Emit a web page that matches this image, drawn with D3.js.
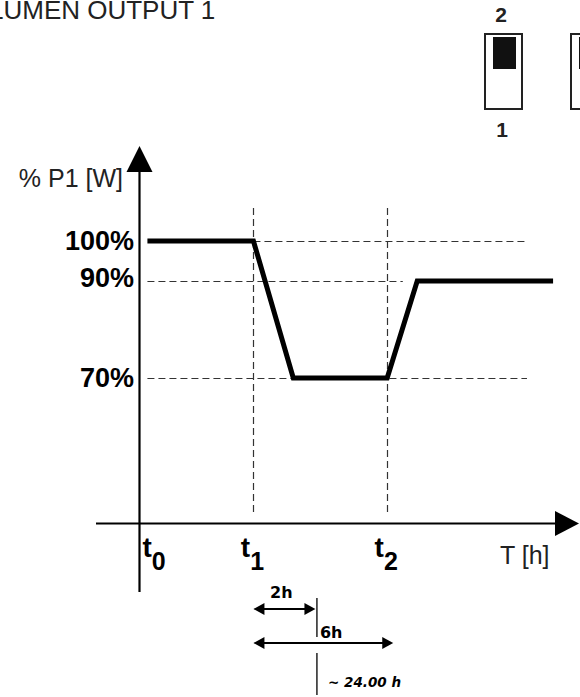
<!DOCTYPE html>
<html>
<head>
<meta charset="utf-8">
<script src="https://cdn.jsdelivr.net/npm/d3@7"></script>
<style>
  html, body { margin: 0; padding: 0; background: #fff; }
  svg { display: block; }
  text { font-family: "Liberation Sans", Arial, sans-serif; }
</style>
</head>
<body>
<svg id="chart" width="580" height="697"></svg>
<script>
// ---------- data ----------
const title = "LUMEN OUTPUT 1";
const yAxisLabel = "% P1 [W]";
const xAxisLabel = "T [h]";
// power curve (time in schematic hours, power in %)
const curveTime  = [0.34, 4.89, 6.6, 10.63, 11.92, 17.75];
const curvePower = [100, 100, 70, 70, 90, 90];
// y tick values / labels
const yTickValues = [100, 90, 70];
const yTickLabels = ["100%", "90%", "70%"];
// time markers
const tMarkerNames = ["t", "t", "t"];
const tMarkerSubs  = ["0", "1", "2"];
const tMarkerTimes = [0, 4.89, 10.63];
// dashed guide lines: horizontal [power, from, to]
const hGuidePower = [100, 90, 70];
const hGuideFrom  = [4.89, 0.34, 0.34];
const hGuideTo    = [16.55, 11.3, 16.63];
// duration annotations (label, drawn span from t1)
const spanLabels = ["2h", "6h"];
const spanHours  = [2.66, 6.0];
const totalLabel = "~ 24.00 h";
// DIP switch labels
const switchTop = "2";
const switchBottom = "1";

// ---------- scales ----------
const svg = d3.select("#chart");
const x = d3.scaleLinear().domain([0, 18]).range([139.5, 139.5 + 18 * 23.3]);
const y = d3.scaleLinear().domain([70, 90, 100]).range([378, 281, 241]);
const axisY = 523.5;
const axisX = x(0);

// ---------- title ----------
svg.append("text").attr("x", -11).attr("y", 19)
  .attr("font-size", 26).attr("fill", "#222").text(title);

// ---------- DIP switch ----------
const sw = svg.append("g");
sw.append("text").attr("x", 501).attr("y", 22).attr("text-anchor", "middle")
  .attr("font-size", 21).attr("font-weight", "bold").attr("fill", "#222").text(switchTop);
sw.append("text").attr("x", 502).attr("y", 137).attr("text-anchor", "middle")
  .attr("font-size", 21).attr("font-weight", "bold").attr("fill", "#222").text(switchBottom);
sw.append("rect").attr("x", 485).attr("y", 34).attr("width", 37).attr("height", 75)
  .attr("fill", "#fff").attr("stroke", "#222").attr("stroke-width", 2);
sw.append("rect").attr("x", 493).attr("y", 37).attr("width", 23).attr("height", 32)
  .attr("fill", "#111");
sw.append("rect").attr("x", 571).attr("y", 34).attr("width", 37).attr("height", 75)
  .attr("fill", "#fff").attr("stroke", "#222").attr("stroke-width", 2);
sw.append("rect").attr("x", 579).attr("y", 37).attr("width", 23).attr("height", 32)
  .attr("fill", "#111");

// ---------- dashed guides ----------
const guides = svg.append("g").attr("stroke", "#333").attr("stroke-width", 1.2)
  .attr("stroke-dasharray", "7,4").attr("fill", "none");
hGuidePower.forEach((p, i) => {
  guides.append("line")
    .attr("x1", x(hGuideFrom[i])).attr("x2", x(hGuideTo[i]))
    .attr("y1", Math.round(y(p)) + 0.5).attr("y2", Math.round(y(p)) + 0.5);
});
[1, 2].forEach(i => {
  const xx = Math.round(x(tMarkerTimes[i])) + 0.5;
  guides.append("line").attr("x1", xx).attr("x2", xx)
    .attr("y1", y(108.25)).attr("y2", axisY - 8);
});

// ---------- axes ----------
const axes = svg.append("g");
axes.append("line").attr("x1", axisX).attr("x2", axisX).attr("y1", 165).attr("y2", 592)
  .attr("stroke", "#000").attr("stroke-width", 2.2);
axes.append("line").attr("x1", 96).attr("x2", 560).attr("y1", axisY).attr("y2", axisY)
  .attr("stroke", "#000").attr("stroke-width", 2.2);
axes.append("path")
  .attr("d", `M${axisX},146 L${axisX - 13},172 L${axisX + 13},172 Z`).attr("fill", "#000");
axes.append("path")
  .attr("d", `M579,${axisY} L555,${axisY - 12.5} L555,${axisY + 12.5} Z`).attr("fill", "#000");

// axis titles
svg.append("text").attr("x", 123).attr("y", 187).attr("text-anchor", "end")
  .attr("font-size", 25).attr("fill", "#222").text(yAxisLabel);
svg.append("text").attr("x", 500).attr("y", 564)
  .attr("font-size", 25).attr("fill", "#222").text(xAxisLabel);

// y tick labels
yTickValues.forEach((v, i) => {
  svg.append("text").attr("x", 134).attr("y", y(v) + 9 - (v === 90 ? 3 : 0))
    .attr("text-anchor", "end").attr("font-size", 27).attr("font-weight", "bold")
    .attr("fill", "#000").text(yTickLabels[i]);
});

// t markers
tMarkerTimes.forEach((t, i) => {
  const txt = svg.append("text")
    .attr("x", i === 0 ? x(t) + 3 : x(t) - 1)
    .attr("y", 557)
    .attr("text-anchor", i === 0 ? "start" : "middle")
    .attr("font-size", 25).attr("font-weight", "bold").attr("fill", "#000");
  txt.append("tspan").text(tMarkerNames[i]).attr("font-size", 28);
  txt.append("tspan").attr("dy", 13).attr("font-size", 25).text(tMarkerSubs[i]);
});

// ---------- power curve ----------
const pts = curveTime.map((t, i) => [t, curvePower[i]]);
svg.append("path").datum(pts)
  .attr("d", d3.line().x(d => x(d[0])).y(d => y(d[1])))
  .attr("fill", "none").attr("stroke", "#000").attr("stroke-width", 5)
  .attr("stroke-linejoin", "miter");

// ---------- duration annotations ----------
const t1x = x(tMarkerTimes[1]);
const ann = svg.append("g");
const spanY = [609, 643];
function dimArrow(x1, x2, yy) {
  ann.append("line").attr("x1", x1 + 6).attr("x2", x2 - 6).attr("y1", yy).attr("y2", yy)
    .attr("stroke", "#000").attr("stroke-width", 2);
  ann.append("path").attr("d", `M${x1},${yy} L${x1 + 11},${yy - 6} L${x1 + 11},${yy + 6} Z`).attr("fill", "#000");
  ann.append("path").attr("d", `M${x2},${yy} L${x2 - 11},${yy - 6} L${x2 - 11},${yy + 6} Z`).attr("fill", "#000");
}
spanHours.forEach((h, i) => dimArrow(t1x, x(tMarkerTimes[1] + h), spanY[i]));
const markX = x(tMarkerTimes[1] + spanHours[0]) + 1.5;
ann.append("line").attr("x1", markX).attr("x2", markX).attr("y1", 598).attr("y2", 637)
  .attr("stroke", "#222").attr("stroke-width", 1.5);
ann.append("line").attr("x1", markX).attr("x2", markX).attr("y1", 653).attr("y2", 695)
  .attr("stroke", "#222").attr("stroke-width", 1.5);
const annFont = '"DejaVu Sans", sans-serif';
ann.append("text").attr("x", 270).attr("y", 598).style("font-size", "16px").style("font-weight", "bold")
  .style("font-family", annFont).attr("fill", "#000").text(spanLabels[0]);
ann.append("text").attr("x", markX + 3).attr("y", 638).style("font-size", "16px").style("font-weight", "bold")
  .style("font-family", annFont).attr("fill", "#000").text(spanLabels[1]);
ann.append("text").attr("x", 328).attr("y", 687).style("font-size", "13.5px").style("font-weight", "bold")
  .style("font-style", "italic").style("font-family", annFont).attr("fill", "#000").text(totalLabel);
</script>
</body>
</html>
